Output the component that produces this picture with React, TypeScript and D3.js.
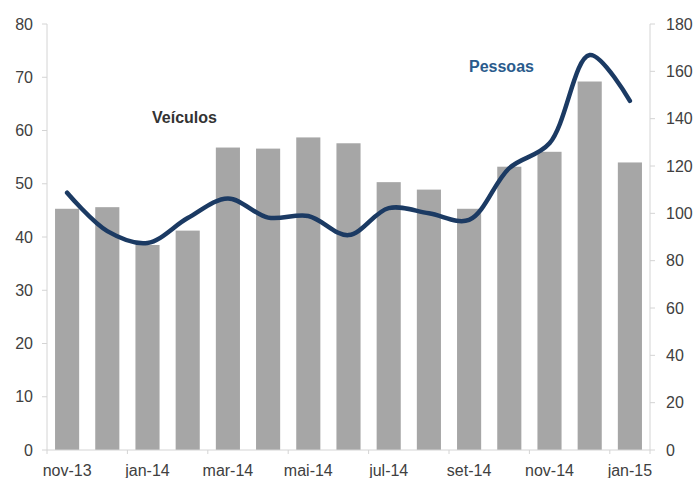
import React from "react";
import * as d3 from "d3";

const months = [
  "nov-13", "dez-13", "jan-14", "fev-14", "mar-14", "abr-14", "mai-14", "jun-14",
  "jul-14", "ago-14", "set-14", "out-14", "nov-14", "dez-14", "jan-15",
];
const veiculos = [45.3, 45.6, 38.5, 41.2, 56.8, 56.6, 58.7, 57.6, 50.3, 48.9, 45.3, 53.2, 56.0, 69.2, 54.0];
const pessoas = [108.7, 92.5, 87.5, 98, 106.3, 98.2, 98.9, 90.8, 102.2, 100, 97.2, 119.1, 129.6, 166.9, 147.5];
const leftTicks = [0, 10, 20, 30, 40, 50, 60, 70, 80];
const rightTicks = [0, 20, 40, 60, 80, 100, 120, 140, 160, 180];

const W = 694, H = 478;
const L = 47, R = 650, T = 24, B = 450;
const FONT = "'Liberation Sans', Arial, Helvetica, sans-serif";
const TEXT = "#404040";
const AXIS = "#d4d4d4";

export default function App() {
  const x = d3.scaleBand<string>().domain(months).range([L, R]).paddingInner(0.4).paddingOuter(0.2);
  const yL = d3.scaleLinear().domain([0, 80]).range([B, T]);
  const yR = d3.scaleLinear().domain([0, 180]).range([B, T]);
  const step = x.step();
  const cx = (m: string) => (x(m) as number) + x.bandwidth() / 2;

  const line = d3
    .line<number>()
    .x((_, i) => cx(months[i]))
    .y((d) => yR(d))
    .curve(d3.curveCatmullRom.alpha(0.5));

  const boundaryTicks: number[] = [];
  for (let i = 0; i <= months.length; i += 2) boundaryTicks.push(L + step * i);
  boundaryTicks.push(R);

  return (
    <svg width={W} height={H} style={{ position: "absolute", left: 0, top: 0 }} fontFamily={FONT}>
      <rect width={W} height={H} fill="#fff" />
      {months.map((m, i) => (
        <rect key={m} x={x(m)} y={yL(veiculos[i])} width={x.bandwidth()} height={B - yL(veiculos[i])} fill="#a6a6a6" />
      ))}
      {/* axes */}
      <line x1={L} x2={L} y1={T} y2={B} stroke={AXIS} />
      <line x1={R} x2={R} y1={T} y2={B} stroke={AXIS} />
      <line x1={L} x2={R} y1={B} y2={B} stroke={AXIS} />
      {leftTicks.map((t) => (
        <g key={"l" + t}>
          <line x1={L - 5} x2={L} y1={yL(t)} y2={yL(t)} stroke={AXIS} />
          <text x={33} y={yL(t)} dy="0.35em" textAnchor="end" fontSize={16} fill={TEXT}>{t}</text>
        </g>
      ))}
      {rightTicks.map((t) => (
        <g key={"r" + t}>
          <line x1={R} x2={R + 5} y1={yR(t)} y2={yR(t)} stroke={AXIS} />
          <text x={666} y={yR(t)} dy="0.35em" textAnchor="start" fontSize={16} fill={TEXT}>{t}</text>
        </g>
      ))}
      {boundaryTicks.map((bx, i) => (
        <line key={"b" + i} x1={bx} x2={bx} y1={B} y2={B + 4} stroke={AXIS} />
      ))}
      {months.map((m, i) =>
        i % 2 === 0 ? (
          <text key={"x" + m} x={cx(m)} y={476} textAnchor="middle" fontSize={16} fill={TEXT}>{m}</text>
        ) : null
      )}
      <path d={line(pessoas) || ""} fill="none" stroke="#1b3a63" strokeWidth={4.5} strokeLinecap="round" />
      <text x={152} y={123} fontSize={16} fontWeight="bold" fill="#333333">Veículos</text>
      <text x={469} y={72} fontSize={16} fontWeight="bold" fill="#2a5b8c">Pessoas</text>
    </svg>
  );
}
